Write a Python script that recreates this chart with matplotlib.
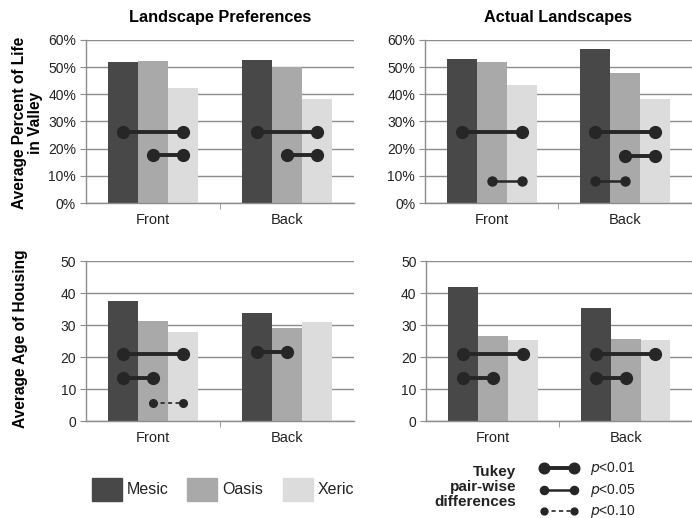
import numpy as np
import matplotlib
matplotlib.use("Agg")
import matplotlib.pyplot as plt
from matplotlib.patches import Rectangle

plt.rcParams['font.family'] = ['Liberation Sans', 'DejaVu Sans']

categories = ["Front", "Back"]
landscapes = ["Mesic", "Oasis", "Xeric"]
bar_colors = ["#484848", "#a9a9a9", "#dcdcdc"]

# percent of life in valley (%)
pref_life = {"Mesic": [51.8, 52.6], "Oasis": [52.4, 49.9], "Xeric": [42.2, 38.4]}
actual_life = {"Mesic": [52.9, 56.6], "Oasis": [51.9, 48.0], "Xeric": [43.4, 38.2]}
# age of housing (years)
pref_age = {"Mesic": [37.6, 33.9], "Oasis": [31.2, 29.2], "Xeric": [27.8, 30.9]}
actual_age = {"Mesic": [41.9, 35.3], "Oasis": [26.5, 25.8], "Xeric": [25.5, 25.5]}

# Tukey pair-wise differences: (category index, from, to, height, level)
pref_life_sig = [(0, "Mesic", "Xeric", 26.3, 0.01), (0, "Oasis", "Xeric", 17.5, 0.01),
                 (1, "Mesic", "Xeric", 26.3, 0.01), (1, "Oasis", "Xeric", 17.5, 0.01)]
actual_life_sig = [(0, "Mesic", "Xeric", 26.2, 0.01), (0, "Oasis", "Xeric", 8.2, 0.05),
                   (1, "Mesic", "Xeric", 26.0, 0.01), (1, "Oasis", "Xeric", 17.4, 0.01),
                   (1, "Mesic", "Oasis", 8.2, 0.05)]
pref_age_sig = [(0, "Mesic", "Xeric", 20.9, 0.01), (0, "Mesic", "Oasis", 13.5, 0.01),
                (0, "Oasis", "Xeric", 5.7, 0.10), (1, "Mesic", "Oasis", 21.5, 0.01)]
actual_age_sig = [(0, "Mesic", "Xeric", 20.9, 0.01), (0, "Mesic", "Oasis", 13.5, 0.01),
                  (1, "Mesic", "Xeric", 20.9, 0.01), (1, "Mesic", "Oasis", 13.5, 0.01)]

sig_styles = {0.01: dict(lw=2.8, ms=8.5, ls="-"),
              0.05: dict(lw=1.8, ms=6.5, ls="-"),
              0.10: dict(lw=1.2, ms=5.5, ls=(0, (2.5, 2)))}
line_col = "#262626"
grid_col = "#8c8c8c"
text_col = "#222222"

bar_w = 0.225
offsets = {"Mesic": -bar_w, "Oasis": 0.0, "Xeric": bar_w}


def draw_panel(ax, values, sigs, ymax, ystep, pct):
    x = np.arange(len(categories))
    for name, col in zip(landscapes, bar_colors):
        ax.bar(x + offsets[name], values[name], width=bar_w, color=col, zorder=2)
    for ci, a, b, y, lvl in sigs:
        st = sig_styles[lvl]
        ax.plot([ci + offsets[a], ci + offsets[b]], [y, y], color=line_col,
                lw=st["lw"], ls=st["ls"], marker="o", ms=st["ms"],
                solid_capstyle="butt", zorder=3)
    ax.set_xlim(-0.5, 1.5)
    ax.set_ylim(0, ymax)
    ticks = np.arange(0, ymax + 0.01, ystep)
    ax.set_yticks(ticks)
    if pct:
        ax.set_yticklabels([f"{int(t)}%" for t in ticks])
    ax.yaxis.grid(True, color=grid_col, lw=1.0, zorder=0)
    ax.set_axisbelow(True)
    ax.set_xticks(x)
    ax.set_xticklabels(categories)
    ax.set_xticks([0.5], minor=True)
    ax.tick_params(axis="x", which="major", length=0, pad=7, labelsize=10.5, colors=text_col)
    ax.tick_params(axis="x", which="minor", length=4, color=grid_col, direction="out")
    ax.tick_params(axis="y", length=4, color=grid_col, pad=3, labelsize=10, labelcolor=text_col)
    for s in ("top", "right"):
        ax.spines[s].set_visible(False)
    for s in ("left", "bottom"):
        ax.spines[s].set_color(grid_col)
        ax.spines[s].set_linewidth(1.0)


fig = plt.figure(figsize=(6.92, 5.18), dpi=100)

ax1 = fig.add_axes([0.124, 0.608, 0.388, 0.315])
ax2 = fig.add_axes([0.614, 0.608, 0.386, 0.315])
ax3 = fig.add_axes([0.124, 0.187, 0.388, 0.309])
ax4 = fig.add_axes([0.616, 0.187, 0.384, 0.309])

draw_panel(ax1, pref_life, pref_life_sig, 60, 10, True)
draw_panel(ax2, actual_life, actual_life_sig, 60, 10, True)
draw_panel(ax3, pref_age, pref_age_sig, 50, 10, False)
draw_panel(ax4, actual_age, actual_age_sig, 50, 10, False)

ax1.set_title("Landscape Preferences", fontsize=11.7, fontweight="bold", pad=13)
ax2.set_title("Actual Landscapes", fontsize=11.7, fontweight="bold", pad=13)
fig.text(0.040, 0.762, "Average Percent of Life\nin Valley", rotation=90, ha="center",
         va="center", fontsize=11.2, fontweight="bold", linespacing=1.1)
fig.text(0.029, 0.347, "Average Age of Housing", rotation=90, ha="center",
         va="center", fontsize=11.2, fontweight="bold")

# legend area in pixel units
leg = fig.add_axes([0, 0, 1, 0.16])
leg.set_xlim(0, 692)
leg.set_ylim(0, 83)
leg.axis("off")
for x0, name, col in zip([92, 187, 283], landscapes, bar_colors):
    leg.add_patch(Rectangle((x0, 17), 30, 23, color=col))
    leg.text(x0 + 35, 29, name, va="center", ha="left", fontsize=11.5, color=text_col)

leg.text(516, 31, "Tukey\npair-wise\ndifferences", ha="right", va="center",
         fontsize=11, fontweight="bold", linespacing=1.1, color=text_col)
for yy, lvl, lab in [(50, 0.01, "0.01"), (28, 0.05, "0.05"), (7, 0.10, "0.10")]:
    st = sig_styles[lvl]
    leg.plot([544, 574], [yy, yy], color=line_col, lw=st["lw"], ls=st["ls"],
             marker="o", ms=st["ms"] * 0.9)
    leg.text(590, yy, r"$p$<" + lab, va="center", ha="left", fontsize=10, color=text_col)

fig.savefig("out.png", dpi=100)
